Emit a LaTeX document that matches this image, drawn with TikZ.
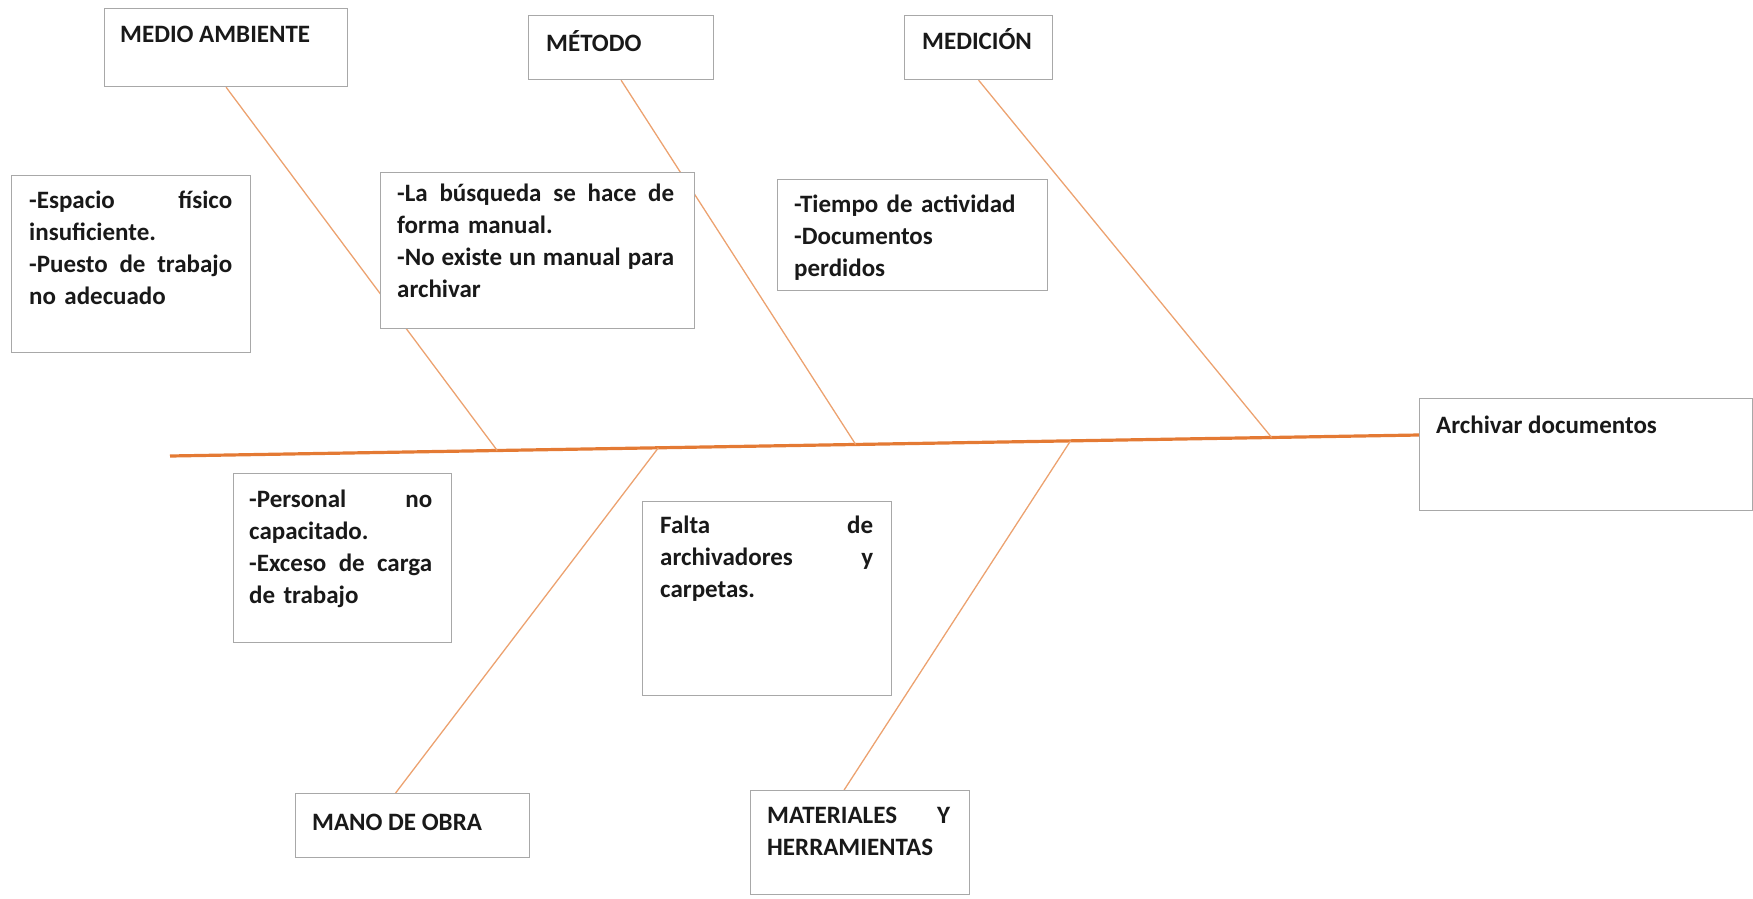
\documentclass[tikz,border=0pt]{standalone}
\usepackage{fontspec}
\setmainfont{Carlito}
\usetikzlibrary{calc,backgrounds}

\definecolor{espina}{RGB}{228,122,52}
\definecolor{rama}{RGB}{236,162,112}
\definecolor{borde}{RGB}{168,168,168}
\definecolor{letra}{RGB}{25,25,25}

\begin{document}
\begin{tikzpicture}[x=1pt, y=-1pt,
  caja/.style={draw=borde, line width=1.2pt, fill=white, anchor=north west, inner sep=0pt},
  texto/.style={anchor=base west, inner sep=0pt, align=left, text=letra,
    font=\bfseries\fontsize{25}{32}\selectfont},
  rama/.style={draw=rama, line width=1.3pt},
  espina/.style={draw=espina, line width=3.2pt}]

  \useasboundingbox (0,0) rectangle (1753,899);

  % cajas: nombre/x/y/ancho/alto
  \foreach \n/\x/\y/\w/\h in {medio/104/8/243/78, metodo/528/15/185/64,
      medicion/904/15/148/64, espacio/11/175/239/177, busqueda/380/172/314/156,
      tiempo/777/179/270/111, archivar/1419/398/333/112, personal/233/473/218/169,
      falta/642/501/249/194, mano/295/793/234/64, materiales/750/790/219/104}
    \node[caja, minimum width=\w pt, minimum height=\h pt] (\n) at (\x,\y) {};

  % textos
  \node[texto] (medioT) at ([shift={(16pt,-35pt)}]medio.north west) {MEDIO AMBIENTE};
  \node[texto] (metodoT) at ([shift={(18pt,-37pt)}]metodo.north west) {MÉTODO};
  \node[texto] (medicionT) at ([shift={(18pt,-35pt)}]medicion.north west) {MEDICIÓN};
  \node[texto, text width=203pt] (espacioT) at ([shift={(18pt,-33pt)}]espacio.north west)
    {-Espacio\hfill físico\\insuficiente.\\-Puesto\hfill de\hfill trabajo\\no adecuado};
  \node[texto, text width=277pt] (busquedaT) at ([shift={(17pt,-29pt)}]busqueda.north west)
    {-La\hfill búsqueda\hfill se\hfill hace\hfill de\\forma manual.\\-No\hfill existe\hfill un\hfill manual\hfill para\\archivar};
  \node[texto, text width=240pt] (tiempoT) at ([shift={(17pt,-33pt)}]tiempo.north west)
    {-Tiempo de actividad\\-Documentos\\perdidos};
  \node[texto] (archivarT) at ([shift={(17pt,-35pt)}]archivar.north west) {Archivar documentos};
  \node[texto, text width=183pt] (personalT) at ([shift={(16pt,-34pt)}]personal.north west)
    {-Personal\hfill no\\capacitado.\\-Exceso\hfill de\hfill carga\\de trabajo};
  \node[texto, text width=213pt] (faltaT) at ([shift={(18pt,-32pt)}]falta.north west)
    {Falta\hfill de\\archivadores\hfill y\\carpetas.};
  \node[texto] (manoT) at ([shift={(17pt,-37pt)}]mano.north west) {MANO DE OBRA};
  \node[texto, text width=183pt] (materialesT) at ([shift={(17pt,-33pt)}]materiales.north west)
    {MATERIALES\hfill Y\\HERRAMIENTAS};

  % espina y causas
  \coordinate (cola) at (170,456);
  \coordinate (cabeza) at ([yshift=-37pt]archivar.north west);
  \coordinate (e1) at ($(cola)!0.262!(cabeza)$);
  \coordinate (e2) at ($(cola)!0.549!(cabeza)$);
  \coordinate (e3) at ($(cola)!0.882!(cabeza)$);
  \coordinate (e4) at ($(cola)!0.391!(cabeza)$);
  \coordinate (e5) at ($(cola)!0.721!(cabeza)$);
  \begin{scope}[on background layer]
    \draw[espina] (cola) -- (cabeza);
    \draw[rama] (medio.south) -- (e1);
    \draw[rama] (metodo.south) -- (e2);
    \draw[rama] (medicion.south) -- (e3);
    \draw[rama] ([xshift=-17pt]mano.north) -- (e4);
    \draw[rama] ([xshift=-16pt]materiales.north) -- (e5);
  \end{scope}
\end{tikzpicture}
\end{document}
